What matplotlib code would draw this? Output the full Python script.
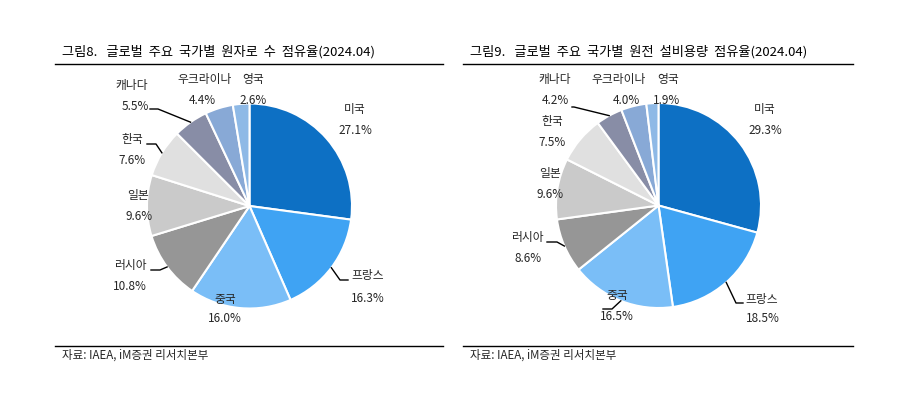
import matplotlib
matplotlib.use("Agg")
import matplotlib.pyplot as plt
import numpy as np

plt.rcParams["font.family"] = ["Noto Sans CJK KR", "DejaVu Sans"]

# ---------------- data ----------------
countries = ["미국", "프랑스", "중국", "러시아", "일본", "한국", "캐나다", "우크라이나", "영국"]
reactor_share = [27.1, 16.3, 16.0, 10.8, 9.6, 7.6, 5.5, 4.4, 2.6]
capacity_share = [29.3, 18.5, 16.5, 8.6, 9.6, 7.5, 4.2, 4.0, 1.9]

colors = ["#0D70C4", "#3FA3F3", "#7ABEF7", "#969696", "#CACACA",
          "#E0E0E0", "#888DA6", "#88A9D6", "#8EB9E6"]

W, H = 907, 399

# label anchors (pixel coords, name / pct line), per panel
left_labels = [((355, 110), (355, 130)), ((368, 276), (368, 298)), ((225, 299), (225, 319)),
               ((130, 265), (130, 287)), ((138, 195), (139, 216)), ((132, 139), (132, 161)),
               ((132, 85), (135, 107)), ((205, 79), (202, 100)), ((253, 79), (253, 100))]
right_labels = [((765, 110), (765, 130)), ((762, 299), (763, 319)), ((617, 296), (617, 317)),
                ((527, 237), (528, 258)), ((550, 174), (550, 195)), ((552, 122), (552, 142)),
                ((555, 80), (555, 101)), ((619, 80), (626, 101)), ((668, 80), (667, 101))]

# leader lines: index -> [start, elbow] in pixels, ends on wedge rim
left_leaders = {6: [(150, 109), (158, 109)], 5: [(147, 144), (156, 144)],
                3: [(151, 270), (160, 270)], 1: [(348, 280), (340, 280)]}
right_leaders = {6: [(572, 107), (574, 107)], 3: [(547, 242), (557, 242)],
                 1: [(743, 303), (736, 303)], 2: [(603, 309), (612, 309)]}


def draw_panel(ax, values, title, x0, x1, center, labels, leaders):
    cx, cy = center
    R = 102.5
    wedges, _ = ax.pie(values, colors=colors, startangle=90, counterclock=False,
                       center=(cx, H - cy), radius=R, frame=True,
                       wedgeprops=dict(edgecolor="white", linewidth=1.5))

    for i, (name, (npos, ppos)) in enumerate(zip(countries, labels)):
        ax.text(npos[0], H - npos[1], name, ha="center", va="center",
                fontsize=8.5, color="#262626")
        ax.text(ppos[0], H - ppos[1], f"{values[i]:.1f}%", ha="center", va="center",
                fontsize=8.5, color="#262626")

    for i, pts in leaders.items():
        w = wedges[i]
        mid = np.deg2rad((w.theta1 + w.theta2) / 2)
        rim = (cx + R * np.cos(mid), H - cy + R * np.sin(mid))
        xs = [p[0] for p in pts] + [rim[0]]
        ys = [H - p[1] for p in pts] + [rim[1]]
        ax.plot(xs, ys, color="black", linewidth=1)

    ax.text(x0 + 7, H - 52, title, ha="left", va="center", fontsize=9.5, color="black")
    ax.plot([x0, x1], [H - 64, H - 64], color="black", linewidth=1)
    ax.plot([x0, x1], [H - 346, H - 346], color="black", linewidth=1)
    ax.text(x0 + 7, H - 355, "자료: IAEA, iM증권 리서치본부", ha="left", va="center",
            fontsize=8.3, color="#262626")


fig = plt.figure(figsize=(W / 100, H / 100), dpi=100)
ax = fig.add_axes([0, 0, 1, 1])

draw_panel(ax, reactor_share, "그림8.   글로벌  주요  국가별  원자로  수  점유율(2024.04)",
           55, 443, (249.5, 206), left_labels, left_leaders)
draw_panel(ax, capacity_share, "그림9.   글로벌  주요  국가별  원전  설비용량  점유율(2024.04)",
           463, 853, (658.5, 205.5), right_labels, right_leaders)

ax.set_xlim(0, W)
ax.set_ylim(0, H)
ax.set_position([0, 0, 1, 1])
ax.axis("off")

fig.savefig("out.png", dpi=100, facecolor="white")
